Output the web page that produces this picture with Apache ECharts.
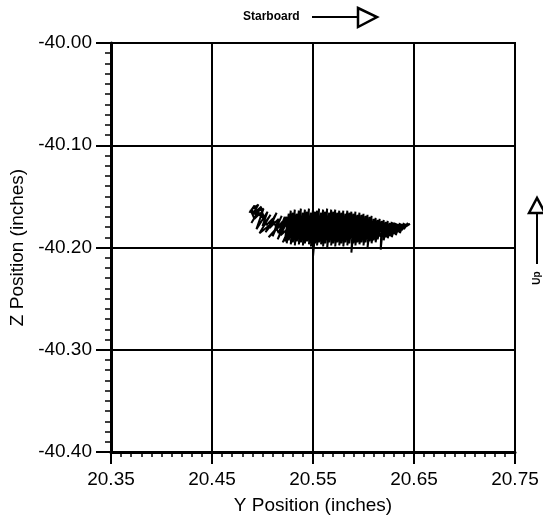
<!DOCTYPE html>
<html>
<head>
<meta charset="utf-8">
<script src="https://cdn.jsdelivr.net/npm/echarts@6/dist/echarts.min.js"></script>
<style>html,body{margin:0;padding:0;background:#fff}#c{width:543px;height:523px}</style>
</head>
<body>
<div id="c"></div>
<script>
// ---- data (Y position, Z position in inches) ----
const xTickLabels = ['20.35', '20.45', '20.55', '20.65', '20.75'];
const yTickLabels = ['-40.40', '-40.30', '-40.20', '-40.10', '-40.00'];
const xMin = 20.35, xMax = 20.75;
const yMin = -40.40, yMax = -40.00;

const leftScribble = [
  [20.487,-40.166],[20.492,-40.159],[20.495,-40.170],[20.489,-40.163],[20.496,-40.158],[20.490,-40.168],
  [20.499,-40.160],[20.489,-40.176],[20.498,-40.161],[20.502,-40.172],[20.493,-40.165],[20.501,-40.162],
  [20.494,-40.182],[20.505,-40.165],[20.500,-40.179],[20.508,-40.168],[20.497,-40.186],[20.511,-40.175],
  [20.503,-40.185],[20.514,-40.166],[20.507,-40.181],[20.516,-40.172],[20.510,-40.189],[20.519,-40.169],
  [20.512,-40.184],[20.521,-40.175],[20.506,-40.190],[20.524,-40.170],[20.515,-40.192],[20.527,-40.168],
  [20.518,-40.188],[20.529,-40.178],[20.520,-40.195],[20.531,-40.172]
];
const mainSweep = [
  [20.522,-40.194],[20.526,-40.167],[20.524,-40.196],[20.528,-40.164],[20.526,-40.193],[20.530,-40.166],
  [20.528,-40.197],[20.532,-40.163],[20.530,-40.195],[20.534,-40.167],[20.532,-40.198],[20.536,-40.164],
  [20.534,-40.194],[20.538,-40.162],[20.536,-40.197],[20.540,-40.166],[20.538,-40.195],[20.542,-40.163],
  [20.540,-40.198],[20.544,-40.165],[20.542,-40.196],[20.546,-40.162],[20.544,-40.194],[20.548,-40.166],
  [20.546,-40.197],[20.550,-40.163],[20.548,-40.199],[20.552,-40.165],[20.550,-40.209],[20.554,-40.164],
  [20.552,-40.196],[20.556,-40.162],[20.554,-40.198],[20.558,-40.166],[20.556,-40.195],[20.560,-40.163],
  [20.558,-40.197],[20.562,-40.165],[20.560,-40.199],[20.564,-40.162],[20.562,-40.196],[20.566,-40.166],
  [20.564,-40.201],[20.568,-40.163],[20.566,-40.195],[20.570,-40.165],[20.568,-40.198],[20.572,-40.163],
  [20.570,-40.196],[20.574,-40.166],[20.572,-40.199],[20.576,-40.164],[20.574,-40.195],[20.578,-40.166],
  [20.576,-40.198],[20.580,-40.164],[20.578,-40.196],[20.582,-40.167],[20.580,-40.199],[20.584,-40.164],
  [20.582,-40.195],[20.586,-40.166],[20.584,-40.198],[20.588,-40.165],[20.586,-40.196],[20.590,-40.167],
  [20.588,-40.205],[20.592,-40.165],[20.590,-40.196],[20.594,-40.168],[20.592,-40.198],[20.596,-40.166],
  [20.594,-40.195],[20.598,-40.168],[20.596,-40.197],[20.600,-40.167],[20.598,-40.195],[20.602,-40.169],
  [20.600,-40.198],[20.604,-40.168],[20.602,-40.195],[20.606,-40.170],[20.604,-40.200],[20.608,-40.169],
  [20.606,-40.194],[20.610,-40.172],[20.608,-40.196],[20.612,-40.171],[20.610,-40.193],[20.614,-40.173],
  [20.612,-40.195],[20.616,-40.172],[20.614,-40.192],[20.618,-40.174],[20.617,-40.202],[20.620,-40.173],
  [20.618,-40.191],[20.622,-40.175],[20.620,-40.193],[20.624,-40.174],[20.622,-40.190],[20.626,-40.176],
  [20.624,-40.191],[20.628,-40.175],[20.626,-40.189],[20.630,-40.177],[20.628,-40.190],[20.632,-40.176],
  [20.630,-40.187],[20.634,-40.177],[20.632,-40.188],[20.636,-40.176],[20.634,-40.185],[20.638,-40.177],
  [20.636,-40.186],[20.640,-40.176],[20.638,-40.183],[20.642,-40.177],[20.640,-40.182],[20.644,-40.176],
  [20.641,-40.180],[20.646,-40.177]
];
const returnSweep = [
  [20.640,-40.179],[20.634,-40.183],[20.630,-40.176],[20.626,-40.186],[20.622,-40.177],[20.616,-40.189],
  [20.612,-40.175],[20.606,-40.192],[20.602,-40.171],[20.596,-40.194],[20.592,-40.169],[20.586,-40.193],
  [20.582,-40.168],[20.576,-40.194],[20.572,-40.167],[20.566,-40.193],[20.562,-40.166],[20.556,-40.194],
  [20.552,-40.167],[20.546,-40.193],[20.542,-40.166],[20.536,-40.192],[20.532,-40.168],[20.526,-40.190],
  [20.522,-40.170],[20.516,-40.186],[20.510,-40.172],[20.504,-40.178],[20.498,-40.166],[20.492,-40.172],
  [20.488,-40.163]
];

const track = leftScribble.concat(mainSweep, returnSweep);

const FONT = '"Liberation Sans", Arial, Helvetica, sans-serif';
const chart = echarts.init(document.getElementById('c'), null, {renderer: 'canvas'});
chart.setOption({
  animation: false,
  backgroundColor: '#fff',
  grid: {left: 111, right: 28, top: 43, bottom: 71, show: true, borderColor: '#000', borderWidth: 2, backgroundColor: 'transparent'},
  xAxis: [
    {
      type: 'value', min: 0, max: xMax - xMin, interval: 0.1, position: 'bottom',
      name: 'Y Position (inches)', nameLocation: 'middle', nameGap: 44,
      nameTextStyle: {fontFamily: FONT, fontSize: 19, color: '#000'},
      axisLine: {show: true, onZero: false, lineStyle: {color: '#000', width: 3}},
      axisTick: {show: true, inside: false, length: 12, lineStyle: {color: '#000', width: 2}},
      minorTick: {show: true, splitNumber: 10, length: 5, lineStyle: {color: '#000', width: 1.5}},
      axisLabel: {margin: 18, fontFamily: FONT, fontSize: 19, color: '#000',
        formatter: (v, i) => xTickLabels[i]},
      splitLine: {show: true, lineStyle: {color: '#000', width: 2}}
    },
    {type: 'value', min: xMin, max: xMax, show: false}
  ],
  yAxis: {
    type: 'value', min: yMin, max: yMax, interval: 0.1,
    name: 'Z Position (inches)', nameLocation: 'middle', nameGap: 84, nameRotate: 90,
    nameTextStyle: {fontFamily: FONT, fontSize: 19, color: '#000'},
    axisLine: {show: true, onZero: false, lineStyle: {color: '#000', width: 3}},
    axisTick: {show: true, inside: false, length: 15, lineStyle: {color: '#000', width: 2}},
    minorTick: {show: true, splitNumber: 10, length: 6, lineStyle: {color: '#000', width: 1.5}},
    axisLabel: {margin: 19, fontFamily: FONT, fontSize: 19, color: '#000',
      formatter: (v, i) => yTickLabels[i]},
    splitLine: {show: true, lineStyle: {color: '#000', width: 2}}
  },
  series: [{
    type: 'line', xAxisIndex: 1, yAxisIndex: 0,
    data: track, showSymbol: false, symbol: 'none', smooth: false,
    lineStyle: {color: '#000', width: 2}
  }],
  graphic: [
    {type: 'text', left: 243, top: 11, style: {text: 'Starboard', font: 'bold 12px ' + FONT, fill: '#000'}},
    {type: 'line', shape: {x1: 312, y1: 17, x2: 358, y2: 17}, style: {stroke: '#000', lineWidth: 2}},
    {type: 'polygon', shape: {points: [[358, 8], [377, 17], [358, 27]]}, style: {fill: '#fff', stroke: '#000', lineWidth: 2.5}},
    {type: 'polygon', shape: {points: [[529, 213], [537, 198], [545, 213]]}, style: {fill: '#fff', stroke: '#000', lineWidth: 2.5}},
    {type: 'line', shape: {x1: 537, y1: 213, x2: 537, y2: 264}, style: {stroke: '#000', lineWidth: 2}},
    {type: 'text', x: 537, y: 278, rotation: Math.PI / 2,
      style: {text: 'Up', font: 'bold 10px ' + FONT, fill: '#000', align: 'center', verticalAlign: 'middle'}}
  ]
});
</script>
</body>
</html>
